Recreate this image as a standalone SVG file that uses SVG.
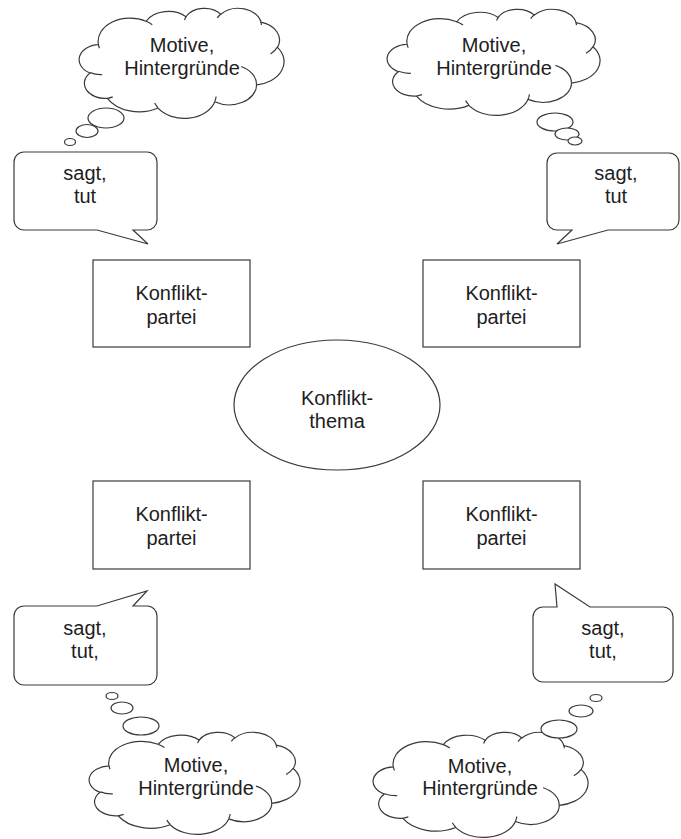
<svg xmlns="http://www.w3.org/2000/svg" xmlns:xlink="http://www.w3.org/1999/xlink" width="681" height="839" viewBox="0 0 681 839">
<style>
.ln{fill:#fff;stroke:#3a3a3a;stroke-width:1.2}
.cl{fill:#fff;stroke:#3a3a3a;stroke-width:1.2;vector-effect:non-scaling-stroke}
.cu{fill:none;stroke:#3a3a3a;stroke-width:1.2;vector-effect:non-scaling-stroke}
.t{font-family:"Liberation Sans",Arial,sans-serif;font-size:20px;fill:#1e1e1e;text-anchor:middle}
</style>
<defs>
<g id="cloudShape">
<path class="cl" d="M 39.0 143.7 A 67.53 91.9 0 0 1 140.04 52.0 A 53.33 72.67 0 0 1 224.55 34.30 A 43.65 59.45 0 0 1 298.32 24.78 A 48.57 65.95 0 0 1 383.17 55.72 A 53.33 72.73 0 0 1 418.17 154.58 A 67.75 92.2 0 0 1 374.01 302.01 A 57.85 78.67 0 0 1 285.52 368.12 A 67.52 92.15 0 0 1 164.77 392.64 A 77.2 105.43 0 0 1 58.00 354.71 A 43.6 59.18 0 0 1 21.09 255.47 A 43.45 59.45 0 0 1 39.0 143.7 Z"/>
<path class="cu" d="M 46.93 261.77 A 43.45 59.45 0 0 1 21.59 253.80 M 69.28 348.99 A 43.6 59.18 0 0 1 58.00 354.71 M 164.78 390.90 A 67.52 92.15 0 0 1 158.10 373.49 M 288.27 347.51 A 67.52 92.15 0 0 1 285.60 366.62 M 341.29 229.54 A 57.85 78.67 0 0 1 373.80 300.89 M 417.98 153.54 A 53.33 72.73 0 0 1 403.51 180.28 M 383.24 54.26 A 48.57 65.95 0 0 1 384.01 66.66 M 290.78 39.52 A 48.57 65.95 0 0 1 298.20 23.40 M 221.41 47.20 A 43.65 59.45 0 0 1 225.00 33.31 M 140.00 51.92 A 67.53 91.9 0 0 1 153.01 65.41 M 41.27 157.89 A 67.53 91.9 0 0 1 39.01 143.71"/>
</g>
</defs>
<rect width="681" height="839" fill="#fff"/>

<g id="cloud-top-left">
<use xlink:href="#cloudShape" transform="translate(80,8) scale(0.4722,0.2546)"/>
<ellipse class="ln" cx="106" cy="118" rx="18" ry="10"/>
<ellipse class="ln" cx="87" cy="131" rx="11" ry="6.5"/>
<ellipse class="ln" cx="70" cy="142" rx="5.5" ry="3.5"/>
<text class="t" x="182" y="52">Motive,</text>
<text class="t" x="182" y="75">Hintergründe</text>
</g>

<g id="cloud-top-right">
<use xlink:href="#cloudShape" transform="translate(388,9) scale(0.4907,0.2454)"/>
<ellipse class="ln" cx="555" cy="122" rx="18" ry="9"/>
<ellipse class="ln" cx="567" cy="134" rx="12" ry="6"/>
<ellipse class="ln" cx="575" cy="141" rx="7" ry="4"/>
<text class="t" x="494" y="52">Motive,</text>
<text class="t" x="494" y="75">Hintergründe</text>
</g>

<g id="cloud-bottom-left">
<use xlink:href="#cloudShape" transform="translate(90,732) scale(0.4861,0.2361)"/>
<ellipse class="ln" cx="112" cy="696" rx="6" ry="3.5"/>
<ellipse class="ln" cx="122" cy="708" rx="11" ry="6"/>
<ellipse class="ln" cx="141" cy="726" rx="18" ry="9"/>
<text class="t" x="196" y="772">Motive,</text>
<text class="t" x="196" y="795">Hintergründe</text>
</g>

<g id="cloud-bottom-right">
<use xlink:href="#cloudShape" transform="translate(374,732) scale(0.4954,0.2431)"/>
<ellipse class="ln" cx="596" cy="698" rx="6" ry="3.5"/>
<ellipse class="ln" cx="581" cy="711" rx="12" ry="6"/>
<ellipse class="ln" cx="559" cy="729" rx="18" ry="9"/>
<text class="t" x="480" y="773">Motive,</text>
<text class="t" x="480" y="795">Hintergründe</text>
</g>

<g id="speech-top-left">
<path class="ln" d="M 24 152 H 147 A 10 10 0 0 1 157 162 V 220 A 10 10 0 0 1 147 230 H 133 L 148 244 L 97 230 H 24 A 10 10 0 0 1 14 220 V 162 A 10 10 0 0 1 24 152 Z"/>
<text class="t" x="85" y="180">sagt,</text>
<text class="t" x="85" y="203">tut</text>
</g>

<g id="speech-top-right">
<path class="ln" d="M 557 153 H 669 A 10 10 0 0 1 679 163 V 220 A 10 10 0 0 1 669 230 H 608 L 557 244 L 572 230 H 557 A 10 10 0 0 1 547 220 V 163 A 10 10 0 0 1 557 153 Z"/>
<text class="t" x="616" y="180">sagt,</text>
<text class="t" x="616" y="203">tut</text>
</g>

<g id="speech-bottom-left">
<path class="ln" d="M 24 606 H 97 L 147 591 L 133 606 H 147 A 10 10 0 0 1 157 616 V 675 A 10 10 0 0 1 147 685 H 24 A 10 10 0 0 1 14 675 V 616 A 10 10 0 0 1 24 606 Z"/>
<text class="t" x="85" y="635">sagt,</text>
<text class="t" x="85" y="658">tut,</text>
</g>

<g id="speech-bottom-right">
<path class="ln" d="M 543 607 H 557 L 555 584 L 590 607 H 663 A 10 10 0 0 1 673 617 V 672 A 10 10 0 0 1 663 682 H 543 A 10 10 0 0 1 533 672 V 617 A 10 10 0 0 1 543 607 Z"/>
<text class="t" x="603" y="635">sagt,</text>
<text class="t" x="603" y="658">tut,</text>
</g>

<g id="party-top-left">
<rect class="ln" x="93" y="260" width="157" height="87"/>
<text class="t" x="171.5" y="300">Konflikt-</text>
<text class="t" x="171.5" y="324">partei</text>
</g>

<g id="party-top-right">
<rect class="ln" x="423" y="260" width="157" height="87"/>
<text class="t" x="501.5" y="300">Konflikt-</text>
<text class="t" x="501.5" y="324">partei</text>
</g>

<g id="party-bottom-left">
<rect class="ln" x="93" y="481" width="157" height="88"/>
<text class="t" x="171.5" y="521">Konflikt-</text>
<text class="t" x="171.5" y="545">partei</text>
</g>

<g id="party-bottom-right">
<rect class="ln" x="423" y="481" width="157" height="88"/>
<text class="t" x="501.5" y="521">Konflikt-</text>
<text class="t" x="501.5" y="545">partei</text>
</g>

<g id="topic">
<ellipse class="ln" cx="337" cy="405" rx="103" ry="65"/>
<text class="t" x="337" y="405">Konflikt-</text>
<text class="t" x="337" y="428">thema</text>
</g>
</svg>
